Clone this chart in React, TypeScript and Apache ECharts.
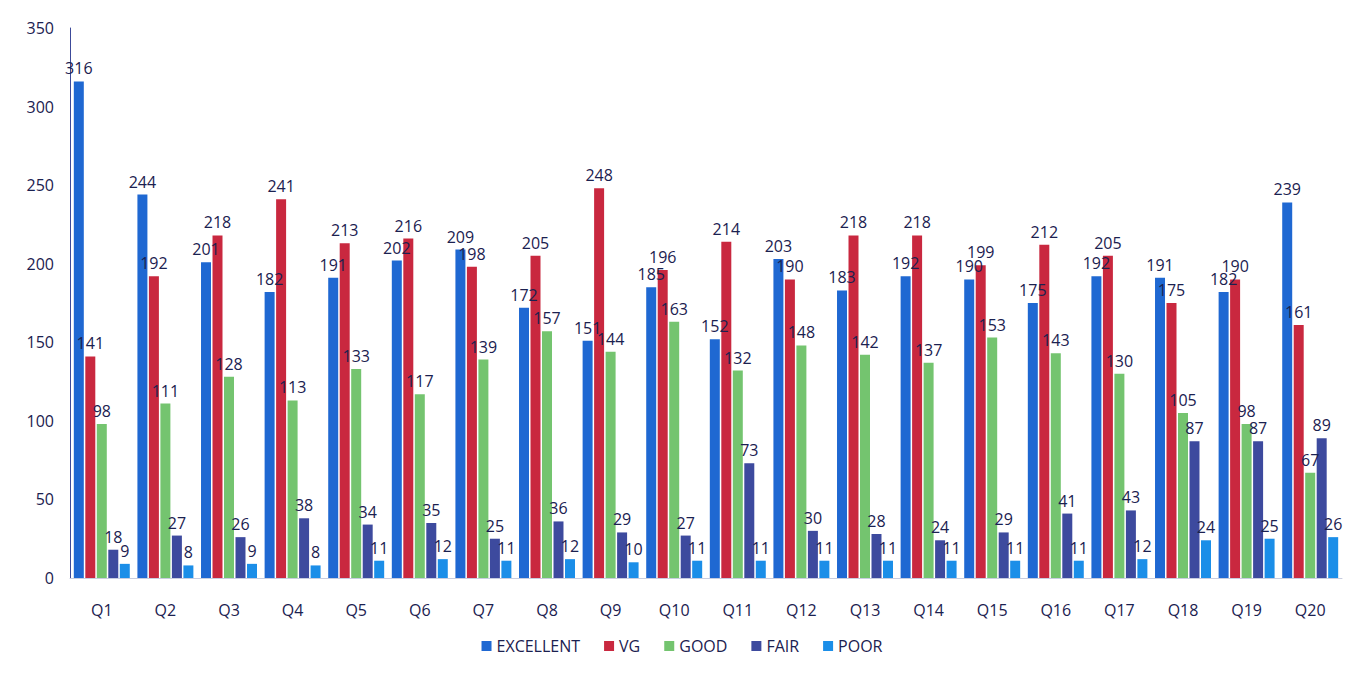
import React, { useEffect, useRef } from "react";
import * as echarts from "echarts";

const categories = ["Q1","Q2","Q3","Q4","Q5","Q6","Q7","Q8","Q9","Q10","Q11","Q12","Q13","Q14","Q15","Q16","Q17","Q18","Q19","Q20"];
const excellent = [316,244,201,182,191,202,209,172,151,185,152,203,183,192,190,175,192,191,182,239];
const vg = [141,192,218,241,213,216,198,205,248,196,214,190,218,218,199,212,205,175,190,161];
const good = [98,111,128,113,133,117,139,157,144,163,132,148,142,137,153,143,130,105,98,67];
const fair = [18,27,26,38,34,35,25,36,29,27,73,30,28,24,29,41,43,87,87,89];
const poor = [9,8,9,8,11,12,11,12,10,11,11,11,11,11,11,11,12,24,25,26];

const seriesDefs = [
  { name: "EXCELLENT", data: excellent, color: "#1f68d2" },
  { name: "VG", data: vg, color: "#c9283f" },
  { name: "GOOD", data: good, color: "#74c46f" },
  { name: "FAIR", data: fair, color: "#3d4a9e" },
  { name: "POOR", data: poor, color: "#1b8ee8" },
];

export default function App() {
  const ref = useRef<HTMLDivElement>(null);
  useEffect(() => {
    const chart = echarts.init(ref.current!, null, { renderer: "svg" });
    const textColor = "#1b2150";
    chart.setOption({
      animation: false,
      backgroundColor: "#ffffff",
      grid: { left: 62, right: 14, top: 20, bottom: 97 },
      legend: {
        bottom: 16,
        left: "center",
        itemWidth: 10,
        itemHeight: 10,
        itemGap: 24,
        icon: "rect",
        textStyle: { color: textColor, fontSize: 16, fontFamily: "Open Sans" },
        data: seriesDefs.map((s) => s.name),
      },
      xAxis: {
        type: "category",
        data: categories,
        axisLine: { show: true, lineStyle: { color: "#c8cde0" } },
        axisTick: { show: false },
        axisLabel: { color: textColor, fontSize: 16, margin: 24, fontFamily: "Open Sans" },
      },
      yAxis: {
        type: "value",
        min: 0,
        max: 350,
        interval: 50,
        splitLine: { show: false },
        axisLine: { show: true, lineStyle: { color: "#3c4a9a" } },
        axisTick: { show: false },
        axisLabel: { color: textColor, fontSize: 16, margin: 16, fontFamily: "Open Sans" },
      },
      series: seriesDefs.map((s) => ({
        name: s.name,
        type: "bar",
        data: s.data,
        barGap: "15%",
        barCategoryGap: "12%",
        itemStyle: { color: s.color },
        label: {
          show: true,
          position: "top",
          color: textColor,
          fontSize: 16,
          fontFamily: "Open Sans",
        },
      })),
    });
    return () => chart.dispose();
  }, []);
  return <div ref={ref} style={{ width: 1348, height: 667 }} />;
}
